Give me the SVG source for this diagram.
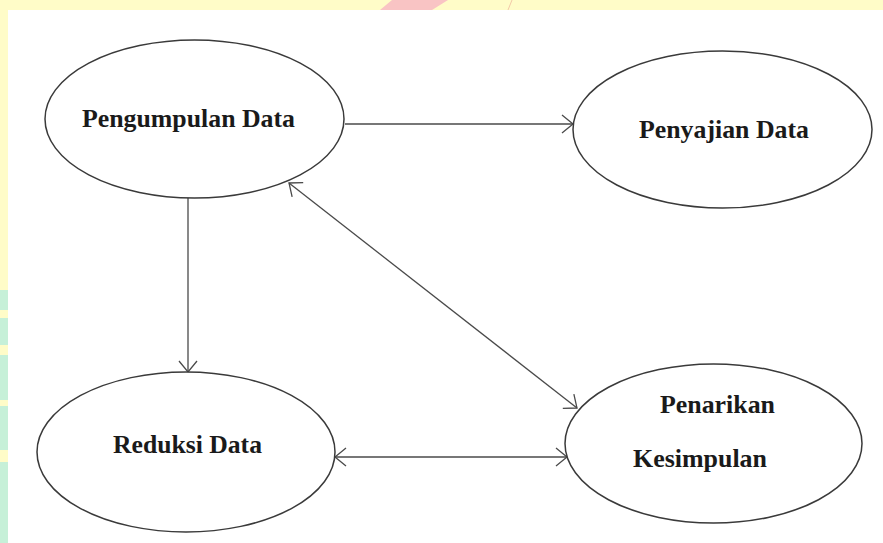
<svg xmlns="http://www.w3.org/2000/svg" width="883" height="543" viewBox="0 0 883 543">
  <defs>
    <style>
      .node ellipse { fill: #ffffff; stroke: #3a3a3a; stroke-width: 1.5; }
      .node text { font-family: "Liberation Serif", "Times New Roman", serif; font-weight: bold; font-size: 26px; fill: #1a1a1a; }
      .edge { fill: none; stroke: #4a4a4a; stroke-width: 1.3; }
    </style>
    <marker id="arrowEnd" markerWidth="16" markerHeight="20" refX="12" refY="10" orient="auto" markerUnits="userSpaceOnUse">
      <path d="M 1 1 L 12 10 L 1 19" fill="none" stroke="#4a4a4a" stroke-width="1.3"/>
    </marker>
    <marker id="arrowStart" markerWidth="16" markerHeight="20" refX="1" refY="10" orient="auto" markerUnits="userSpaceOnUse">
      <path d="M 12 1 L 1 10 L 12 19" fill="none" stroke="#4a4a4a" stroke-width="1.3"/>
    </marker>
  </defs>

  <!-- background frame -->
  <rect x="0" y="0" width="883" height="543" fill="#fffcc8"/>
  <polygon points="392,0 448,0 432,10 380,10" fill="#f9c4c4"/>
  <line x1="512" y1="0" x2="508" y2="10" stroke="#f2c8a8" stroke-width="1"/>
  <rect x="0" y="290" width="8" height="253" fill="#c6f0d8"/>
  <rect x="0" y="310" width="8" height="8" fill="#fffcc8"/>
  <rect x="0" y="345" width="8" height="10" fill="#fffcc8"/>
  <rect x="0" y="400" width="8" height="6" fill="#fffcc8"/>
  <rect x="0" y="450" width="8" height="12" fill="#fffcc8"/>
  <rect x="8" y="10" width="875" height="533" fill="#ffffff"/>

  <g id="connectors">
    <line class="edge" x1="345" y1="124" x2="573" y2="124" marker-end="url(#arrowEnd)"/>
    <line class="edge" x1="188" y1="198" x2="188" y2="372" marker-end="url(#arrowEnd)"/>
    <line class="edge" x1="289" y1="183" x2="577" y2="408" marker-start="url(#arrowStart)" marker-end="url(#arrowEnd)"/>
    <line class="edge" x1="335" y1="457" x2="567" y2="457" marker-start="url(#arrowStart)" marker-end="url(#arrowEnd)"/>
  </g>

  <g id="node-pengumpulan" class="node">
    <ellipse cx="194.5" cy="119" rx="149.5" ry="79"/>
    <text x="82" y="127" textLength="213" lengthAdjust="spacingAndGlyphs">Pengumpulan Data</text>
  </g>

  <g id="node-penyajian" class="node">
    <ellipse cx="722.5" cy="129.5" rx="149.5" ry="78.5"/>
    <text x="639" y="138" textLength="170" lengthAdjust="spacingAndGlyphs">Penyajian Data</text>
  </g>

  <g id="node-reduksi" class="node">
    <ellipse cx="186" cy="452" rx="149" ry="80"/>
    <text x="113" y="453" textLength="149" lengthAdjust="spacingAndGlyphs">Reduksi Data</text>
  </g>

  <g id="node-penarikan" class="node">
    <ellipse cx="713.5" cy="443.5" rx="148.5" ry="79.5"/>
    <text x="660" y="413" textLength="115" lengthAdjust="spacingAndGlyphs">Penarikan</text>
    <text x="633" y="467" textLength="134" lengthAdjust="spacingAndGlyphs">Kesimpulan</text>
  </g>
</svg>
